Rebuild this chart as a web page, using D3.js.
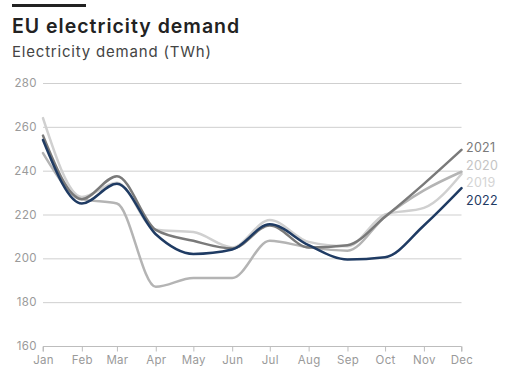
<!DOCTYPE html>
<html>
<head>
<meta charset="utf-8">
<script src="https://cdn.jsdelivr.net/npm/d3@7"></script>
<style>
  body { margin: 0; background: #fff; }
  svg { display: block; font-family: Inter, "Open Sans", sans-serif; }
</style>
</head>
<body>
<svg width="512" height="372"></svg>
<script>
const months = ['Jan', 'Feb', 'Mar', 'Apr', 'May', 'Jun', 'Jul', 'Aug', 'Sep', 'Oct', 'Nov', 'Dec']
const yTicks = [160, 180, 200, 220, 240, 260, 280]

// TWh, first of each month
const demand2019 = [264, 228, 234.5, 213, 212, 205, 217.5, 207.5, 205.5, 220, 223, 238.5]
const demand2020 = [248, 227, 225, 187, 191, 191, 208, 205, 203.5, 219, 231, 239.5]
const demand2021 = [256, 227, 237.5, 213, 208, 204.5, 215, 205, 206, 219, 234, 249.5]
const demand2022 = [254, 225, 234, 211, 202, 204, 215.5, 206, 199.5, 200.5, 215, 232]

const series = [
  { name: '2021', values: demand2021, color: '#7a7a7a', label: '#7a7a7a' },
  { name: '2020', values: demand2020, color: '#b4b4b4', label: '#c4c4c4' },
  { name: '2019', values: demand2019, color: '#d0d0d0', label: '#d4d4d4' },
  { name: '2022', values: demand2022, color: '#1f3b63', label: '#1f3b63' },
]

const svg = d3.select('svg')

// header
svg.append('rect').attr('x', 12).attr('y', 4).attr('width', 74).attr('height', 3).attr('fill', '#222')
svg.append('text').attr('x', 12).attr('y', 33)
  .attr('font-size', 19.5).attr('font-weight', 600).attr('fill', '#222')
  .attr('letter-spacing', 1)
  .text('EU electricity demand')
svg.append('text').attr('x', 12).attr('y', 57)
  .attr('font-size', 15).attr('fill', '#444')
  .attr('letter-spacing', 0.8)
  .text('Electricity demand (TWh)')

const dates = months.map((m, i) => new Date(2022, i, 1))

const x = d3.scaleTime()
  .domain([dates[0], dates[11]])
  .range([43, 461.5])
const y = d3.scaleLinear()
  .domain([160, 280])
  .range([346, 83])

// gridlines
svg.append('g')
  .selectAll('line')
  .data(yTicks.slice(1))
  .join('line')
  .attr('x1', 43).attr('x2', 461.5)
  .attr('y1', d => y(d) + 0.5).attr('y2', d => y(d) + 0.5)
  .attr('stroke', '#cfcfcf')

// y labels
svg.append('g')
  .selectAll('text')
  .data(yTicks)
  .join('text')
  .attr('x', 37).attr('y', d => y(d) + 4)
  .attr('text-anchor', 'end')
  .attr('font-size', 11.5).attr('fill', '#9a9a9a')
  .attr('letter-spacing', 0.4)
  .text(d => d)

// x axis
const xAxis = svg.append('g')
  .attr('transform', 'translate(0,346.5)')
  .call(d3.axisBottom(x).tickValues(dates).tickFormat((d, i) => months[i]).tickSize(5).tickPadding(4))
xAxis.select('.domain').attr('stroke', '#bdbdbd').attr('d', `M43,5V0H461.5V5`)
xAxis.selectAll('.tick line').attr('stroke', '#bdbdbd')
xAxis.selectAll('.tick text').attr('fill', '#9a9a9a').attr('font-size', 11.5)
  .attr('letter-spacing', 0.3)
  .attr('font-family', 'Inter, "Open Sans", sans-serif')

// lines
const line = d3.line()
  .x((d, i) => x(dates[i]))
  .y(d => y(d))
  .curve(d3.curveMonotoneX)

const drawOrder = ['2019', '2020', '2021', '2022']
svg.append('g')
  .selectAll('path')
  .data(drawOrder.map(n => series.find(s => s.name === n)))
  .join('path')
  .attr('fill', 'none')
  .attr('stroke', d => d.color)
  .attr('stroke-width', 2.5)
  .attr('stroke-linejoin', 'round')
  .attr('stroke-linecap', 'round')
  .attr('d', d => line(d.values))

// end labels, stacked by end value
svg.append('g')
  .selectAll('text')
  .data(series)
  .join('text')
  .attr('x', 466)
  .attr('y', (d, i) => 152 + i * 17.5)
  .attr('font-size', 12.5)
  .attr('letter-spacing', 0.3)
  .attr('fill', d => d.label)
  .text(d => d.name)
</script>
</body>
</html>
